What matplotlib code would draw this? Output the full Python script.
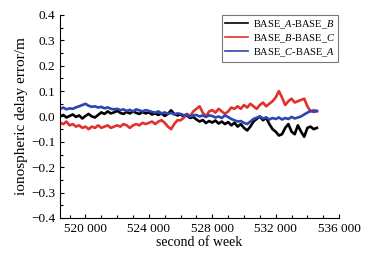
import numpy as np
import matplotlib
matplotlib.use('Agg')
import matplotlib.pyplot as plt
from matplotlib.ticker import MultipleLocator, FuncFormatter

plt.rcParams['font.family'] = 'Liberation Serif'
plt.rcParams['mathtext.fontset'] = 'custom'
plt.rcParams['mathtext.rm'] = 'Liberation Serif'
plt.rcParams['mathtext.it'] = 'Liberation Serif:italic'

# sampled every 200 s from 518400 to 534600
t_start, t_end = 518400, 534600

ab = [0.0, 0.006, -0.004, 0.002, 0.008, -0.002, 0.004, -0.008,
      0.002, 0.01, 0.0, -0.004, 0.006, 0.016, 0.01, 0.02, 0.012, 0.016,
      0.022, 0.014, 0.01, 0.018, 0.012, 0.02, 0.014, 0.01, 0.018, 0.012,
      0.016, 0.008, 0.012, 0.006, 0.012, 0.002, 0.01, 0.024, 0.01, 0.004,
      0.008, 0.0, 0.004, -0.006, -0.002, -0.012, -0.02, -0.014, -0.026, -0.018,
      -0.024, -0.016, -0.028, -0.02, -0.03, -0.022, -0.035, -0.025, -0.04, -0.03,
      -0.045, -0.055, -0.04, -0.02, -0.01, 0.0, -0.015, -0.005, -0.03, -0.05,
      -0.06, -0.075, -0.07, -0.045, -0.03, -0.06, -0.07, -0.035, -0.06, -0.08,
      -0.045, -0.04, -0.05, -0.045]

bc = [-0.025, -0.03, -0.02, -0.035, -0.03, -0.04, -0.035, -0.045,
      -0.04, -0.05, -0.04, -0.045, -0.035, -0.045, -0.04, -0.035, -0.045, -0.04,
      -0.035, -0.04, -0.03, -0.035, -0.045, -0.035, -0.03, -0.035, -0.025, -0.03,
      -0.025, -0.02, -0.03, -0.02, -0.015, -0.025, -0.04, -0.05, -0.03, -0.015,
      -0.015, -0.005, 0.01, 0.0, 0.02, 0.03, 0.04, 0.015, 0.0, 0.02,
      0.025, 0.015, 0.03, 0.02, 0.01, 0.02, 0.035, 0.03, 0.04, 0.03,
      0.045, 0.035, 0.05, 0.04, 0.03, 0.045, 0.055, 0.04, 0.05, 0.06,
      0.075, 0.1, 0.075, 0.045, 0.06, 0.07, 0.055, 0.06, 0.065, 0.07,
      0.04, 0.02, 0.025, 0.02]

ca = [0.03, 0.035, 0.028, 0.032, 0.03, 0.036, 0.04, 0.045,
      0.05, 0.042, 0.038, 0.04, 0.035, 0.038, 0.032, 0.036, 0.03, 0.028,
      0.03, 0.025, 0.028, 0.022, 0.026, 0.02, 0.028, 0.024, 0.02, 0.025,
      0.022, 0.018, 0.015, 0.02, 0.012, 0.016, 0.01, 0.014, 0.008, 0.012,
      0.01, 0.005, 0.008, 0.0, 0.004, 0.006, 0.0, 0.004, -0.002, 0.004,
      0.002, -0.004, 0.0, -0.006, 0.004, -0.002, -0.01, -0.015, -0.02, -0.018,
      -0.025, -0.03, -0.02, -0.01, -0.005, 0.0, -0.008, -0.004, -0.012, -0.006,
      -0.01, -0.004, -0.012, -0.006, -0.01, -0.002, -0.008, -0.004, 0.0, 0.008,
      0.015, 0.022, 0.018, 0.022]

labels = [r'BASE_$\mathit{A}$-BASE_$\mathit{B}$',
          r'BASE_$\mathit{B}$-BASE_$\mathit{C}$',
          r'BASE_$\mathit{C}$-BASE_$\mathit{A}$']
colors = ['black', '#e2302c', '#2c45b0']

fig = plt.figure(figsize=(3.71, 2.62), dpi=100)
ax = fig.add_axes([0.162, 0.168, 0.752, 0.775])

for series, lab, c in zip([ab, bc, ca], labels, colors):
    t = np.linspace(t_start, t_end, len(series))
    ax.plot(t, series, color=c, lw=1.9, label=lab)

ax.set_xlim(518400, 536000)
ax.set_ylim(-0.4, 0.4)
ax.xaxis.set_major_locator(MultipleLocator(4000))
ax.xaxis.set_minor_locator(MultipleLocator(1000))
ax.yaxis.set_major_locator(MultipleLocator(0.1))
ax.yaxis.set_minor_locator(MultipleLocator(0.05))
ax.xaxis.set_major_formatter(FuncFormatter(lambda v, p: f'{int(v):,}'.replace(',', ' ')))
ax.yaxis.set_major_formatter(FuncFormatter(lambda v, p: f'{v:.1f}'.replace('-', '\u2212')))
ax.tick_params(which='both', direction='in', labelsize=9.5, width=0.8)
ax.tick_params(which='major', length=3)
ax.tick_params(which='minor', length=2)
ax.spines['top'].set_visible(False)
ax.spines['right'].set_visible(False)

ax.set_xlabel('second of week', fontsize=10, labelpad=1)
ax.set_ylabel('ionospheric delay error/m', fontsize=11, labelpad=2)

leg = ax.legend(loc='upper right', fontsize=7.5, frameon=True, fancybox=False,
                edgecolor='#555555', handlelength=2.2, handletextpad=0.5,
                borderpad=0.3, labelspacing=0.15, borderaxespad=0.0,
                bbox_to_anchor=(0.997, 1.0))
leg.get_frame().set_linewidth(0.8)
for line in leg.get_lines():
    line.set_linewidth(1.2)

fig.savefig('out.png', dpi=100)
